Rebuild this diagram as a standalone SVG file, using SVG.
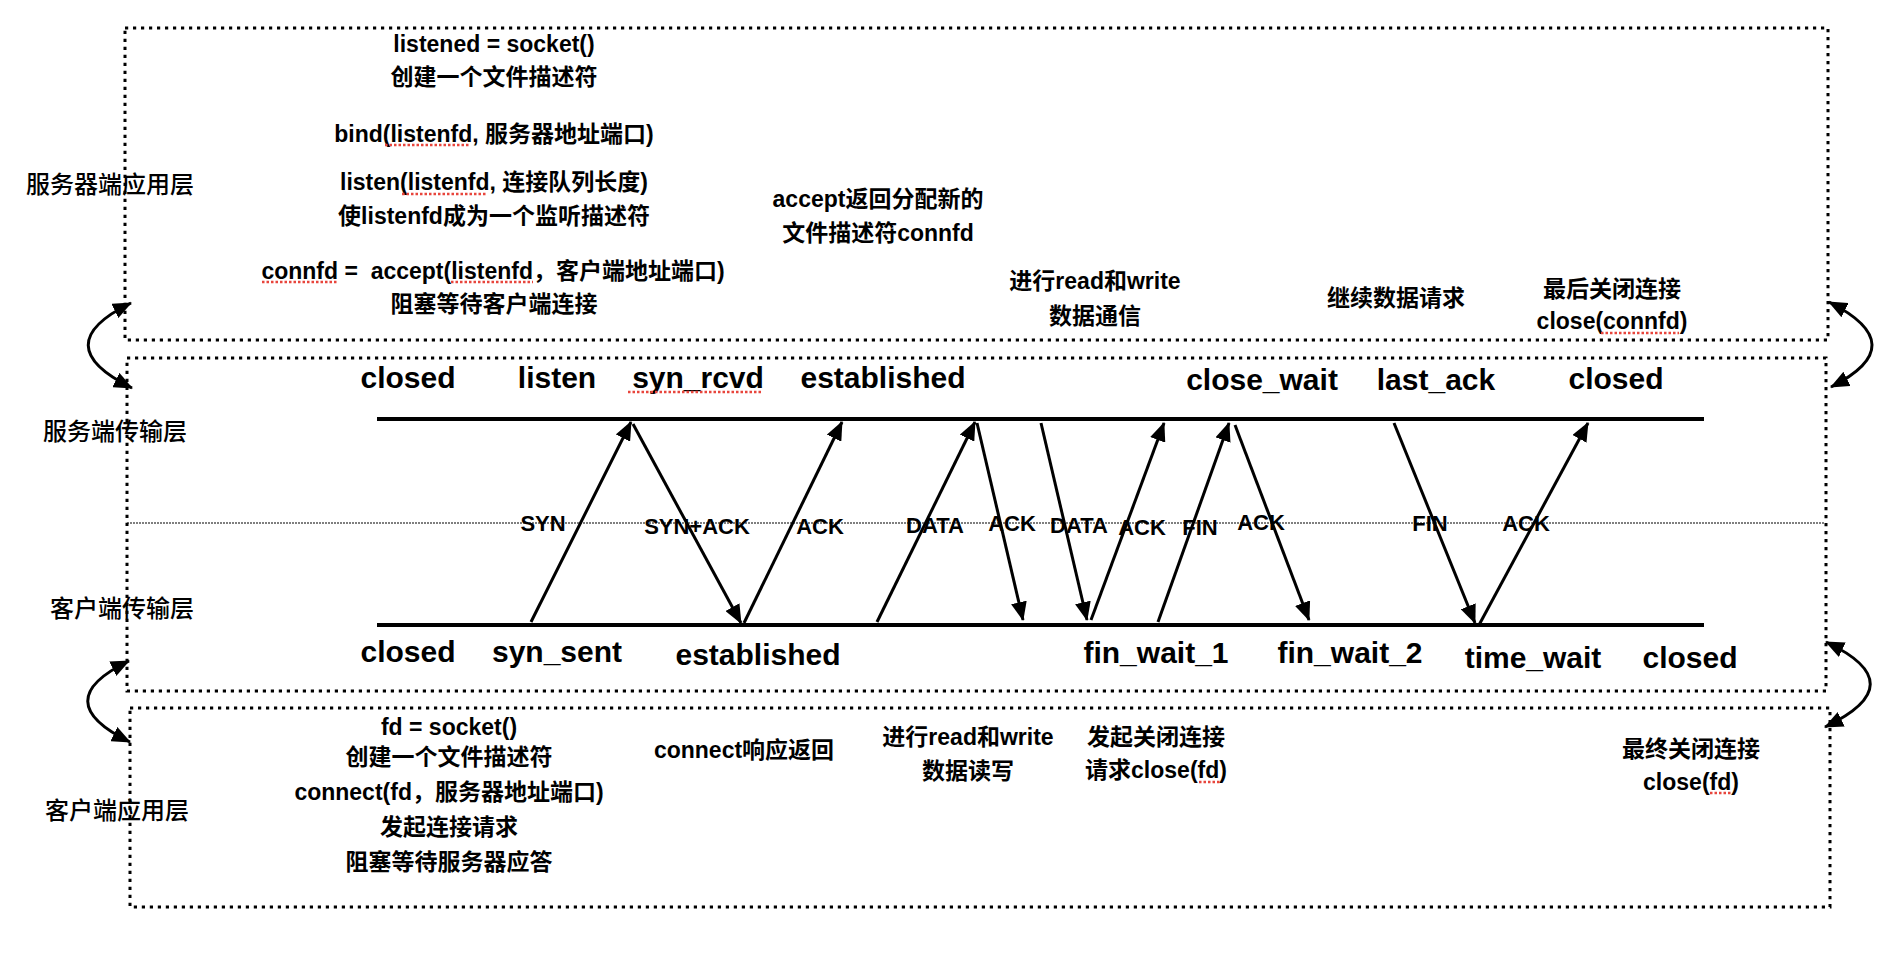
<svg xmlns="http://www.w3.org/2000/svg" width="1904" height="956" viewBox="0 0 1904 956">
<defs>
<style>
text{font-family:"Liberation Sans","Noto Sans CJK SC",sans-serif;fill:#000}
.t{font-size:23px;font-weight:700;text-anchor:middle}
.lay{font-size:24px;font-weight:500;text-anchor:middle}
.st{font-size:30px;font-weight:700;text-anchor:middle}
.lbl{font-size:22px;font-weight:700;text-anchor:middle}
.box{fill:none;stroke:#000;stroke-width:3;stroke-dasharray:3.2 4.8}
.mid{fill:none;stroke:#000;stroke-width:1.2;stroke-dasharray:2 1}
.tl{fill:none;stroke:#000;stroke-width:4}
.ar{fill:none;stroke:#000;stroke-width:3;marker-end:url(#ah)}
.cv{fill:none;stroke:#000;stroke-width:3;marker-start:url(#ah);marker-end:url(#ah)}
.sq{fill:none;stroke:#e8453c;stroke-width:2.5;stroke-dasharray:2.5 2}
</style>
<marker id="ah" markerUnits="userSpaceOnUse" markerWidth="20" markerHeight="16" viewBox="0 0 20 16" refX="18" refY="8" orient="auto-start-reverse"><path d="M0,0 L19,8 L0,16 z" fill="#000"/></marker>
</defs>
<rect width="1904" height="956" fill="#fff"/>

<g id="server-app">
<rect class="box" x="125" y="28" width="1703" height="312"/>
<text class="lay" x="110" y="193">服务器端应用层</text>
<text class="t" x="494" y="52">listened = socket()</text>
<text class="t" x="494" y="85">创建一个文件描述符</text>
<text class="t" x="494" y="142">bind(listenfd, 服务器地址端口)</text>
<text class="t" x="494" y="190">listen(listenfd, 连接队列长度)</text>
<text class="t" x="494" y="224">使listenfd成为一个监听描述符</text>
<text class="t" x="493" y="279" xml:space="preserve" style="white-space:pre">connfd =  accept(listenfd，客户端地址端口)</text>
<text class="t" x="494" y="312">阻塞等待客户端连接</text>
<text class="t" x="878" y="207">accept返回分配新的</text>
<text class="t" x="878" y="241">文件描述符connfd</text>
<text class="t" x="1095" y="289">进行read和write</text>
<text class="t" x="1095" y="324">数据通信</text>
<text class="t" x="1396" y="306">继续数据请求</text>
<text class="t" x="1612" y="297">最后关闭连接</text>
<text class="t" x="1612" y="329">close(connfd)</text>
<path class="sq" d="M385,145 H470 M402,194 H487 M262,282 H338 M451,282 H533 M1601,333 H1679"/>
</g>

<g id="transport">
<rect class="box" x="127" y="358" width="1699" height="333"/>
<line class="mid" x1="127" y1="523" x2="1825" y2="523"/>
<text class="lay" x="115" y="440">服务端传输层</text>
<text class="lay" x="122" y="617">客户端传输层</text>
<line class="tl" x1="377" y1="419" x2="1704" y2="419"/>
<line class="tl" x1="377" y1="625" x2="1704" y2="625"/>
<text class="st" x="408" y="388">closed</text>
<text class="st" x="557" y="388">listen</text>
<text class="st" x="698" y="388">syn_rcvd</text>
<text class="st" x="883" y="388">established</text>
<text class="st" x="1262" y="390">close_wait</text>
<text class="st" x="1436" y="390">last_ack</text>
<text class="st" x="1616" y="389">closed</text>
<text class="st" x="408" y="662">closed</text>
<text class="st" x="557" y="662">syn_sent</text>
<text class="st" x="758" y="665">established</text>
<text class="st" x="1156" y="663">fin_wait_1</text>
<text class="st" x="1350" y="663">fin_wait_2</text>
<text class="st" x="1533" y="668">time_wait</text>
<text class="st" x="1690" y="668">closed</text>
<path class="sq" d="M628,392 H763"/>
</g>

<g id="client-app">
<rect class="box" x="130" y="708" width="1700" height="199"/>
<text class="lay" x="117" y="819">客户端应用层</text>
<text class="t" x="449" y="735">fd = socket()</text>
<text class="t" x="449" y="765">创建一个文件描述符</text>
<text class="t" x="449" y="800">connect(fd，服务器地址端口)</text>
<text class="t" x="449" y="835">发起连接请求</text>
<text class="t" x="449" y="870">阻塞等待服务器应答</text>
<text class="t" x="744" y="758">connect响应返回</text>
<text class="t" x="968" y="745">进行read和write</text>
<text class="t" x="968" y="779">数据读写</text>
<text class="t" x="1156" y="745">发起关闭连接</text>
<text class="t" x="1156" y="778">请求close(fd)</text>
<text class="t" x="1691" y="757">最终关闭连接</text>
<text class="t" x="1691" y="790">close(fd)</text>
<path class="sq" d="M1199,782 H1221 M1710,793 H1732"/>
</g>

<g id="connectors">
<line class="ar" x1="531" y1="622" x2="631" y2="422"/>
<line class="ar" x1="633" y1="424" x2="741" y2="623"/>
<line class="ar" x1="744" y1="623" x2="842" y2="422"/>
<line class="ar" x1="877" y1="622" x2="975" y2="422"/>
<line class="ar" x1="977" y1="423" x2="1023" y2="620"/>
<line class="ar" x1="1041" y1="423" x2="1087" y2="620"/>
<line class="ar" x1="1091" y1="620" x2="1164" y2="423"/>
<line class="ar" x1="1158" y1="622" x2="1229" y2="423"/>
<line class="ar" x1="1235" y1="425" x2="1309" y2="620"/>
<line class="ar" x1="1394" y1="423" x2="1475" y2="623"/>
<line class="ar" x1="1479" y1="625" x2="1588" y2="423"/>
<path class="cv" d="M131,303 Q45,345 132,388"/>
<path class="cv" d="M129,661 Q46,701 130,742"/>
<path class="cv" d="M1829,302 Q1914,345 1831,387"/>
<path class="cv" d="M1826,642 Q1915,684 1825,727"/>
</g>

<g id="labels">
<text class="lbl" x="543" y="531">SYN</text>
<text class="lbl" x="697" y="534">SYN+ACK</text>
<text class="lbl" x="820" y="534">ACK</text>
<text class="lbl" x="935" y="533">DATA</text>
<text class="lbl" x="1012" y="531">ACK</text>
<text class="lbl" x="1079" y="533">DATA</text>
<text class="lbl" x="1142" y="535">ACK</text>
<text class="lbl" x="1200" y="535">FIN</text>
<text class="lbl" x="1261" y="530">ACK</text>
<text class="lbl" x="1430" y="531">FIN</text>
<text class="lbl" x="1526" y="531">ACK</text>
</g>
</svg>
